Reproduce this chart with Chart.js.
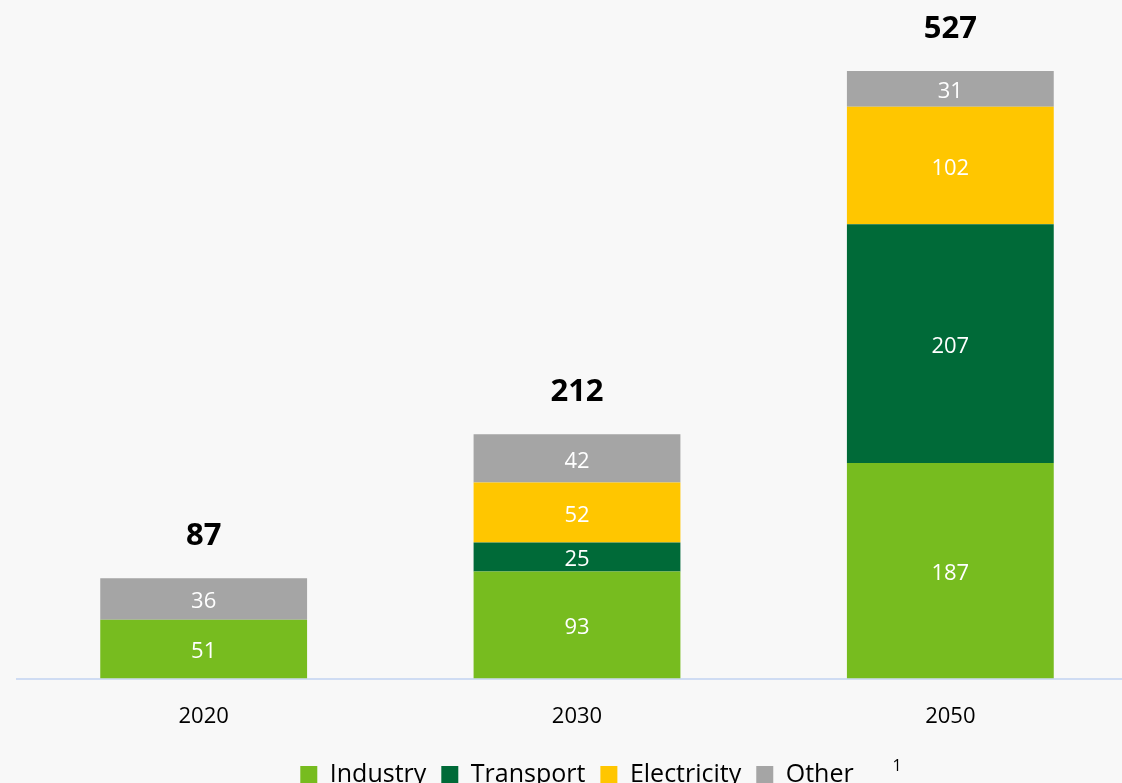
<!DOCTYPE html>
<html>
<head>
<meta charset="utf-8">
<script src="https://cdn.jsdelivr.net/npm/chart.js@4/dist/chart.umd.min.js"></script>
<style>
  html, body { margin: 0; padding: 0; background: #f8f8f8; overflow: hidden; }
  #wrap { width: 1137px; height: 797px; position: relative; }
</style>
</head>
<body>
<div id="wrap"><canvas id="chart"></canvas></div>
<script>
const categories = ['2020', '2030', '2050']
const industry = [51, 93, 187]
const transport = [null, 25, 207]
const electricity = [null, 52, 102]
const other = [36, 42, 31]

const FONT = '"Open Sans", "Liberation Sans", sans-serif'

// white numbers inside each segment + bold totals above
const barLabels = {
  id: 'barLabels',
  afterDatasetsDraw(chart) {
    const ctx = chart.ctx
    ctx.save()
    ctx.textAlign = 'center'
    ctx.textBaseline = 'middle'
    ctx.fillStyle = '#ffffff'
    ctx.font = '22px ' + FONT
    chart.data.datasets.forEach((ds, di) => {
      const meta = chart.getDatasetMeta(di)
      meta.data.forEach((bar, i) => {
        const v = ds.data[i]
        if (v == null) return
        ctx.fillText(String(v), bar.x, (bar.y + bar.base) / 2 + 3)
      })
    })
    const yScale = chart.scales.y
    const meta0 = chart.getDatasetMeta(0)
    ctx.fillStyle = '#000000'
    ctx.font = 'bold 31px ' + FONT
    categories.forEach((c, i) => {
      let total = 0
      chart.data.datasets.forEach(ds => { total += ds.data[i] || 0 })
      ctx.fillText(String(total), meta0.data[i].x, yScale.getPixelForValue(total) - 42)
    })
    // footnote marker after legend
    ctx.font = '16px ' + FONT
    ctx.fillText('1', 897, 766)
    ctx.restore()
  }
}

new Chart(document.getElementById('chart'), {
  type: 'bar',
  data: {
    labels: categories,
    datasets: [
      { label: 'Industry', data: industry, backgroundColor: '#77bc1f' },
      { label: 'Transport', data: transport, backgroundColor: '#006a38' },
      { label: 'Electricity', data: electricity, backgroundColor: '#ffc600' },
      { label: 'Other', data: other, backgroundColor: '#a5a5a5' }
    ]
  },
  options: {
    responsive: true,
    maintainAspectRatio: false,
    animation: false,
    layout: { padding: { top: 33, left: 17, right: 0, bottom: 0 } },
    datasets: {
      bar: { categoryPercentage: 1, barPercentage: 0.554, borderWidth: 0 }
    },
    plugins: {
      legend: {
        position: 'bottom',
        align: 'center',
        labels: {
          color: '#000',
          font: { family: FONT, size: 25 },
          boxWidth: 17,
          boxHeight: 17,
          padding: 15
        }
      },
      tooltip: { enabled: false }
    },
    scales: {
      x: {
        stacked: true,
        grid: { display: false },
        border: { display: true, color: '#cfdcf3', width: 2 },
        ticks: { color: '#000', font: { family: FONT, size: 22 }, padding: 17 }
      },
      y: {
        stacked: true,
        display: false,
        min: 0,
        max: 560
      }
    }
  },
  plugins: [barLabels]
})
</script>
</body>
</html>
